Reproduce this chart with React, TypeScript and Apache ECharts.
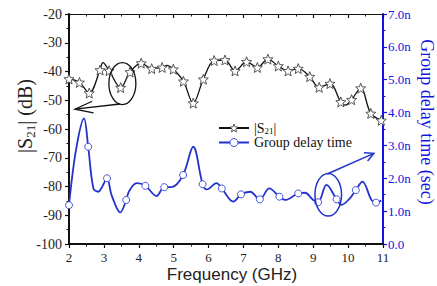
import React, { useEffect, useRef } from "react";
import * as echarts from "echarts";

// |S21| curve samples (GHz, dB); s21Star: 1 where a star marker sits
const s21Freq = [2.0, 2.3, 2.58, 2.89, 2.97, 3.15, 3.48, 3.75, 4.07, 4.37, 4.67, 4.8, 4.99, 5.28, 5.56, 5.85, 6.16, 6.47, 6.76, 7.09, 7.4, 7.7, 8.0, 8.28, 8.57, 8.9, 9.17, 9.48, 9.79, 9.92, 10.1, 10.36, 10.65, 10.95];
const s21Db = [-42.6, -43.8, -47.5, -39.5, -36.9, -39.7, -45.6, -40.2, -37.1, -39.0, -38.6, -37.9, -39.2, -43.4, -51.0, -42.7, -36.2, -36.0, -39.8, -36.6, -38.6, -35.7, -38.1, -39.8, -39.0, -41.8, -45.5, -44.2, -50.6, -51.7, -49.8, -45.8, -54.6, -57.0];
const s21Star = [1, 1, 1, 1, 0, 1, 1, 1, 1, 1, 1, 0, 1, 1, 1, 1, 1, 1, 1, 1, 1, 1, 1, 1, 1, 1, 1, 1, 1, 0, 1, 1, 1, 1];

// Group delay samples (GHz, ns); gdCircle: 1 where a circle marker sits
const gdFreq = [2.0, 2.2, 2.43, 2.55, 2.7, 2.84, 2.94, 3.09, 3.22, 3.47, 3.64, 3.72, 3.94, 4.19, 4.51, 4.73, 4.94, 5.27, 5.56, 5.83, 5.95, 6.23, 6.38, 6.71, 6.93, 7.19, 7.47, 7.74, 8.03, 8.19, 8.57, 8.76, 9.0, 9.14, 9.38, 9.67, 9.81, 10.05, 10.22, 10.41, 10.67, 10.8, 10.95];
const gdNs = [1.18, 2.86, 3.82, 2.96, 1.69, 1.59, 1.72, 2.0, 1.49, 0.96, 1.34, 1.6, 1.85, 1.77, 1.46, 1.73, 1.73, 2.1, 2.96, 1.82, 1.66, 1.85, 1.69, 1.29, 1.51, 1.59, 1.36, 1.69, 1.44, 1.34, 1.54, 1.56, 1.34, 1.27, 1.8, 1.36, 1.19, 1.39, 1.64, 1.9, 1.34, 1.26, 1.32];
const gdCircle = [1, 0, 0, 1, 0, 0, 0, 1, 0, 0, 1, 0, 0, 1, 0, 1, 0, 1, 0, 1, 0, 0, 1, 0, 1, 0, 1, 0, 1, 0, 1, 0, 0, 1, 0, 1, 0, 0, 1, 0, 0, 1, 0];

const legendNames = ["S21", "Group delay time"];

const STAR =
  "path://M12,1 L14.9,8.6 L23,9.2 L16.8,14.4 L18.8,22.5 L12,18 L5.2,22.5 L7.2,14.4 L1,9.2 L9.1,8.6 Z";

const BLUE = "#2233cc";
const AXIS_BLUE = "#1414e0";
const SERIF = "Liberation Serif";

export default function App() {
  const ref = useRef<HTMLDivElement>(null);

  useEffect(() => {
    const chart = echarts.init(ref.current!, null, { renderer: "svg" });

    const tickFont = { fontFamily: SERIF, color: "#222" };
    const starStyle = { color: "#fff", borderColor: "#444", borderWidth: 0.9 };
    const circleStyle = { color: "#fff", borderColor: "#4455dd", borderWidth: 1 };

    const option: any = {
      animation: false,
      backgroundColor: "#fff",
      grid: { left: 69, right: 54, top: 14, bottom: 42, containLabel: false },
      legend: {
        orient: "vertical",
        left: 218,
        top: 121,
        padding: 0,
        itemWidth: 30,
        itemHeight: 10,
        itemGap: 0,
        data: [
          { name: legendNames[0], itemStyle: starStyle },
          { name: legendNames[1], itemStyle: circleStyle },
        ],
        formatter: (n: string) => (n === "S21" ? "|S{sub|21}|" : n),
        textStyle: {
          fontFamily: SERIF,
          fontSize: 14,
          color: "#111",
          rich: {
            sub: { fontFamily: SERIF, fontSize: 9, verticalAlign: "bottom", lineHeight: 15, color: "#111" },
          },
        },
      },
      xAxis: [
        {
          type: "value",
          position: "bottom",
          min: 2,
          max: 11,
          interval: 1,
          axisLine: { show: true, lineStyle: { color: "#111", width: 2 } },
          axisTick: { show: true, inside: false, length: 4, lineStyle: { color: "#111", width: 1.2 } },
          minorTick: { show: true, splitNumber: 2, length: 2.5, lineStyle: { color: "#111", width: 1 } },
          axisLabel: { ...tickFont, fontSize: 13, margin: 7 },
          splitLine: { show: false },
        },
        {
          type: "value",
          position: "top",
          min: 2,
          max: 11,
          interval: 1,
          axisLine: { show: true, lineStyle: { color: "#111", width: 1.2 } },
          axisTick: { show: true, inside: true, length: 4, lineStyle: { color: "#111", width: 1.2 } },
          minorTick: { show: true, splitNumber: 2, length: 2.5, lineStyle: { color: "#111", width: 1 } },
          axisLabel: { show: false },
          splitLine: { show: false },
        },
      ],
      yAxis: [
        {
          type: "value",
          position: "left",
          min: -100,
          max: -20,
          interval: 10,
          axisLine: { show: true, lineStyle: { color: "#111", width: 2 } },
          axisTick: { show: true, inside: false, length: 4, lineStyle: { color: "#111", width: 1.2 } },
          minorTick: { show: true, splitNumber: 2, length: 2.5, lineStyle: { color: "#111", width: 1 } },
          axisLabel: { ...tickFont, fontSize: 14, margin: 7 },
          splitLine: { show: false },
        },
        {
          type: "value",
          position: "right",
          min: 0,
          max: 7,
          interval: 1,
          axisLine: { show: true, lineStyle: { color: AXIS_BLUE, width: 2 } },
          axisTick: { show: true, inside: false, length: 4, lineStyle: { color: AXIS_BLUE, width: 1.2 } },
          minorTick: { show: true, splitNumber: 2, length: 2.5, lineStyle: { color: AXIS_BLUE, width: 1 } },
          axisLabel: {
            fontFamily: SERIF,
            fontSize: 13,
            color: AXIS_BLUE,
            margin: 5,
            formatter: (v: number) => (v === 0 ? "0.0" : v.toFixed(1) + "n"),
          },
          splitLine: { show: false },
        },
      ],
      series: [
        {
          name: "S21",
          type: "line",
          xAxisIndex: 0,
          yAxisIndex: 0,
          smooth: 0.35,
          symbol: STAR,
          symbolSize: 10,
          showAllSymbol: true,
          lineStyle: { color: "#111", width: 1.3 },
          itemStyle: starStyle,
          z: 3,
          data: s21Freq.map((f, i) => ({
            value: [f, s21Db[i]],
            symbol: s21Star[i] ? STAR : "none",
          })),
        },
        {
          name: "Group delay time",
          type: "line",
          xAxisIndex: 0,
          yAxisIndex: 1,
          smooth: 0.35,
          symbol: "circle",
          symbolSize: 7,
          showAllSymbol: true,
          lineStyle: { color: BLUE, width: 1.8 },
          itemStyle: circleStyle,
          z: 2,
          data: gdFreq.map((f, i) => ({
            value: [f, gdNs[i]],
            symbol: gdCircle[i] ? "circle" : "none",
          })),
        },
      ],
    };

    chart.setOption(option);

    const px = (yi: number, x: number, y: number) =>
      chart.convertToPixel({ xAxisIndex: 0, yAxisIndex: yi }, [x, y]) as number[];

    const arrow = (a: number[], b: number[], head: number, ang: number, color: string, w: number) => {
      const dx = a[0] - b[0];
      const dy = a[1] - b[1];
      const base = Math.atan2(dy, dx);
      const h1 = [b[0] + head * Math.cos(base + ang), b[1] + head * Math.sin(base + ang)];
      const h2 = [b[0] + head * Math.cos(base - ang), b[1] + head * Math.sin(base - ang)];
      return [
        { type: "line", shape: { x1: a[0], y1: a[1], x2: b[0], y2: b[1] }, style: { stroke: color, lineWidth: w } },
        { type: "polyline", shape: { points: [h1, b, h2] }, style: { stroke: color, lineWidth: w, fill: null } },
      ];
    };

    const e1 = px(0, 3.53, -44.2);
    const e2 = px(1, 9.43, 1.5);
    const a1 = arrow(px(0, 3.46, -51.3), px(0, 2.17, -53.1), 19, (18 * Math.PI) / 180, "#111", 1.3);
    const a2 = arrow(px(1, 9.4, 2.13), px(1, 10.74, 2.76), 10, (27 * Math.PI) / 180, BLUE, 1.5);

    chart.setOption({
      graphic: [
        {
          type: "ellipse",
          shape: { cx: e1[0], cy: e1[1], rx: 13.5, ry: 21 },
          style: { fill: null, stroke: "#111", lineWidth: 1.3 },
          z: 10,
        },
        {
          type: "ellipse",
          shape: { cx: e2[0], cy: e2[1], rx: 13.3, ry: 21.3 },
          style: { fill: null, stroke: BLUE, lineWidth: 1.5 },
          z: 10,
        },
        ...a1.map((g) => ({ ...g, z: 10 })),
        ...a2.map((g) => ({ ...g, z: 10 })),
        {
          type: "text",
          x: 25,
          y: 116,
          rotation: Math.PI / 2,
          style: {
            text: "|S{sub|21}| (dB)",
            fontFamily: SERIF,
            fontSize: 20,
            fill: "#222",
            align: "center",
            verticalAlign: "middle",
            rich: {
              sub: { fontFamily: SERIF, fontSize: 13, verticalAlign: "bottom", lineHeight: 24, fill: "#222" },
            },
          },
        },
        {
          type: "text",
          x: 427,
          y: 122,
          rotation: -Math.PI / 2,
          style: {
            text: "Group delay time (sec)",
            fontFamily: SERIF,
            fontSize: 18,
            fill: AXIS_BLUE,
            align: "center",
            verticalAlign: "middle",
          },
        },
        {
          type: "text",
          x: 232,
          y: 274,
          style: {
            text: "Frequency (GHz)",
            fontFamily: "Liberation Sans",
            fontSize: 17,
            fill: "#222",
            align: "center",
            verticalAlign: "middle",
          },
        },
      ],
    });

    return () => chart.dispose();
  }, []);

  return (
    <div
      ref={ref}
      style={{ position: "fixed", left: 0, top: 0, width: 437, height: 286, background: "#fff" }}
    />
  );
}
